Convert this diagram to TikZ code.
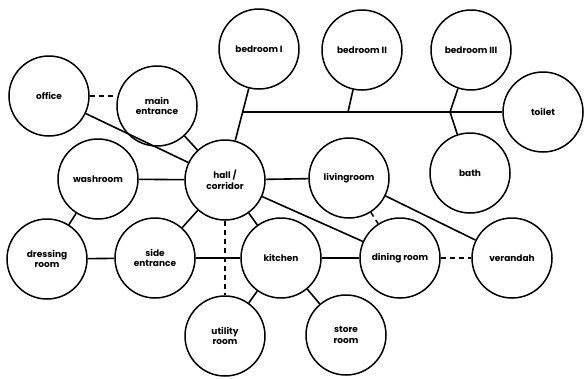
\documentclass[tikz,border=0pt]{standalone}
\usepackage{fontspec}
\setmainfont{Poppins}
\usepackage{tikz}
\usetikzlibrary{positioning}

\begin{document}
\begin{tikzpicture}[x=1pt,y=-1pt,font=\fontsize{9}{10.5}\selectfont\bfseries,
  room/.style={circle,draw,line width=1.5pt,minimum size=80pt,inner sep=0pt,align=center},
  link/.style={line width=1.6pt},
  weak/.style={line width=1.5pt,dash pattern=on 5pt off 4pt}]
  \useasboundingbox (0,0) rectangle (585,378);

  \node[room] (office) at (49,96) {office};
  \node[room] (mainent) at (157,106) {main\\entrance};
  \node[room] (bedI) at (259,49) {bedroom I};
  \node[room] (bedII) at (362,50) {bedroom II};
  \node[room] (bedIII) at (471,50) {bedroom III};
  \node[room] (toilet) at (543,112) {toilet};
  \node[room] (bath) at (470,173) {bath};

  \node[room] (washroom) at (98,179) {washroom};
  \node[room] (hall) at (225,180) {hall /\\corridor};
  \node[room] (living) at (349,178) {livingroom};

  \node[room] (dressing) at (47,259) {dressing\\room};
  \node[room] (sideent) at (155,258) {side\\entrance};
  \node[room] (kitchen) at (281,258) {kitchen};
  \node[room] (dining) at (400,258) {dining room};
  \node[room] (verandah) at (512,258) {verandah};

  \node[room] (utility) at (225,336) {utility\\room};
  \node[room] (store) at (346,335) {store\\room};

  \coordinate (jI) at (243,112);
  \coordinate (jII) at (348,112);
  \coordinate (jIII) at (450,112);

  \draw[weak] (office.east) -- (office.east -| mainent.west);
  \draw[link] (office) -- (hall);
  \draw[link] (mainent) -- (hall);
  \draw[link] (bedI) -- (hall);
  \draw[link] (jI) -- (toilet);
  \draw[link] (bedII) -- (jII);
  \draw[link] (bedIII) -- (jIII) -- (bath);

  \draw[link] (washroom) -- (hall);
  \draw[link] (hall) -- (living);
  \draw[link] (washroom) -- (dressing);
  \draw[link] (dressing) -- (sideent);
  \draw[link] (sideent) -- (kitchen);
  \draw[link] (hall) -- (sideent);
  \draw[link] (hall) -- (kitchen);
  \draw[link] (hall) -- (dining);
  \draw[weak] (hall) -- (utility);
  \draw[weak] (living) -- (dining);
  \draw[link] (living) -- (verandah);
  \draw[link] (kitchen) -- (dining);
  \draw[weak] (dining) -- (verandah);
  \draw[link] (kitchen) -- (utility);
  \draw[link] (kitchen) -- (store);
\end{tikzpicture}
\end{document}
